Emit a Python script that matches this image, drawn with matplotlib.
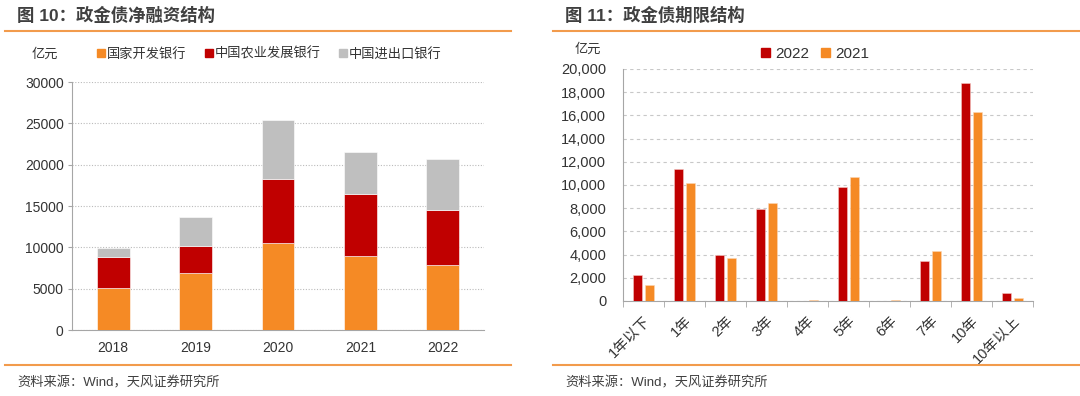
import matplotlib
matplotlib.use("Agg")
import matplotlib.pyplot as plt
import numpy as np
from matplotlib.patches import Patch
from matplotlib.ticker import FuncFormatter, FixedLocator

# 数字用 Arial 风格字体，中文回退到 Noto Sans CJK
plt.rcParams['font.family'] = ['Liberation Sans', 'Noto Sans CJK SC', 'DejaVu Sans']

# 图10 数据：政金债净融资结构（亿元）
years = ['2018', '2019', '2020', '2021', '2022']
cdb = [5070, 6850, 10500, 8950, 7900]          # 国家开发银行
adbc = [3730, 3360, 7800, 7450, 6600]          # 中国农业发展银行
exim = [1130, 3450, 7150, 5100, 6150]          # 中国进出口银行

# 图11 数据：政金债期限结构（亿元）
terms = ['1年以下', '1年', '2年', '3年', '4年', '5年', '6年', '7年', '10年', '10年以上']
v2022 = [2250, 11380, 3930, 7950, 0, 9870, 0, 3440, 18780, 700]
v2021 = [1400, 10200, 3730, 8430, 80, 10650, 60, 4330, 16280, 250]

ORANGE = '#F58A25'
RED = '#C00000'
GRAY = '#BFBFBF'
RULE = '#F29B4C'
TXT = '#333333'
W, H = 1080, 396

fig = plt.figure(figsize=(W / 100, H / 100), dpi=100)


def px_axes(x0, y_top, x1, y_bot):
    return fig.add_axes([x0 / W, 1 - y_bot / H, (x1 - x0) / W, (y_bot - y_top) / H])


def rule(x0, x1, y):
    fig.add_artist(plt.Line2D([x0 / W, x1 / W], [1 - y / H, 1 - y / H],
                              color=RULE, lw=1.5, transform=fig.transFigure))


# 标题、分隔线、来源
fig.text(17 / W, 1 - 15 / H, '图 10：政金债净融资结构', fontsize=12.5, fontweight='bold',
         color='#404040', va='center')
fig.text(565 / W, 1 - 15 / H, '图 11：政金债期限结构', fontsize=12.5, fontweight='bold',
         color='#404040', va='center')
rule(5, 511, 31)
rule(553, 1080, 31)
rule(5, 511, 365)
rule(553, 1080, 365)
fig.text(17 / W, 1 - 383 / H, '资料来源：Wind，天风证券研究所', fontsize=9.5, color='#404040', va='center')
fig.text(565 / W, 1 - 383 / H, '资料来源：Wind，天风证券研究所', fontsize=9.5, color='#404040', va='center')

# ---- 左图 ----
ax1 = px_axes(72, 82, 484, 330)
x = np.arange(len(years))
b1 = np.array(cdb)
b2 = b1 + np.array(adbc)
ax1.bar(x, cdb, width=0.4, color=ORANGE, edgecolor='white', linewidth=0.4, zorder=3)
ax1.bar(x, adbc, width=0.4, bottom=b1, color=RED, edgecolor='white', linewidth=0.4, zorder=3)
ax1.bar(x, exim, width=0.4, bottom=b2, color=GRAY, edgecolor='white', linewidth=0.4, zorder=3)
ax1.set_xlim(-0.5, 4.5)
ax1.set_ylim(0, 30000)
ax1.set_yticks(range(0, 30001, 5000))
ax1.set_xticks(x)
ax1.set_xticklabels(years)
ax1.yaxis.grid(True, linestyle=(0, (1, 1.5)), color='#BBBBBB', lw=0.8, zorder=0)
for s in ['top', 'right']:
    ax1.spines[s].set_visible(False)
for s in ['left', 'bottom']:
    ax1.spines[s].set_color('#A6A6A6')
ax1.tick_params(axis='y', length=3, color='#A6A6A6', labelsize=10, labelcolor=TXT, pad=3)
ax1.tick_params(axis='x', length=0, labelsize=10, labelcolor=TXT, pad=8)
fig.text(45 / W, 1 - 55 / H, '亿元', fontsize=9.5, color=TXT, ha='center', va='center')
h1 = [Patch(color=ORANGE, label='国家开发银行'),
      Patch(color=RED, label='中国农业发展银行'),
      Patch(color=GRAY, label='中国进出口银行')]
fig.legend(handles=h1, loc='center left', bbox_to_anchor=(85 / W, 1 - 54 / H), ncol=3,
           frameon=False, fontsize=9.5, handlelength=0.6, handleheight=0.6,
           handletextpad=0.15, columnspacing=1.4, labelcolor=TXT)

# ---- 右图 ----
ax2 = px_axes(623, 69, 1033, 301)
x2 = np.arange(len(terms))
ax2.bar(x2 - 0.145, v2022, width=0.23, color=RED, edgecolor='#F4C7C3', linewidth=0.4, zorder=3)
ax2.bar(x2 + 0.145, v2021, width=0.23, color=ORANGE, edgecolor='#FBD7B5', linewidth=0.4, zorder=3)
ax2.set_xlim(-0.5, len(terms) - 0.5)
ax2.set_ylim(0, 20000)
ax2.set_yticks(range(0, 20001, 2000))
ax2.yaxis.set_major_formatter(FuncFormatter(lambda v, p: f'{int(v):,}'))
ax2.set_xticks(x2)
ax2.set_xticklabels(terms, rotation=45, ha='right', rotation_mode='anchor')
ax2.xaxis.set_minor_locator(FixedLocator(np.arange(-0.5, len(terms), 1.0)))
ax2.yaxis.grid(True, linestyle=(0, (3, 3)), color='#C8C8C8', lw=0.8, zorder=0)
for s in ['top', 'right']:
    ax2.spines[s].set_visible(False)
for s in ['left', 'bottom']:
    ax2.spines[s].set_color('#A6A6A6')
ax2.tick_params(axis='y', length=0, labelsize=10.5, labelcolor=TXT, pad=12)
ax2.tick_params(axis='x', which='major', length=0, labelsize=10.5, labelcolor=TXT, pad=9)
ax2.tick_params(axis='x', which='minor', length=4, color='#A6A6A6')
fig.text(588 / W, 1 - 50 / H, '亿元', fontsize=9.5, color=TXT, ha='center', va='center')
h2 = [Patch(color=RED, label='2022'), Patch(color=ORANGE, label='2021')]
fig.legend(handles=h2, loc='center', bbox_to_anchor=(815 / W, 1 - 54 / H), ncol=2,
           frameon=False, fontsize=11, handlelength=0.6, handleheight=0.6,
           handletextpad=0.3, columnspacing=0.8, labelcolor=TXT)

fig.savefig('out.png', dpi=100)
